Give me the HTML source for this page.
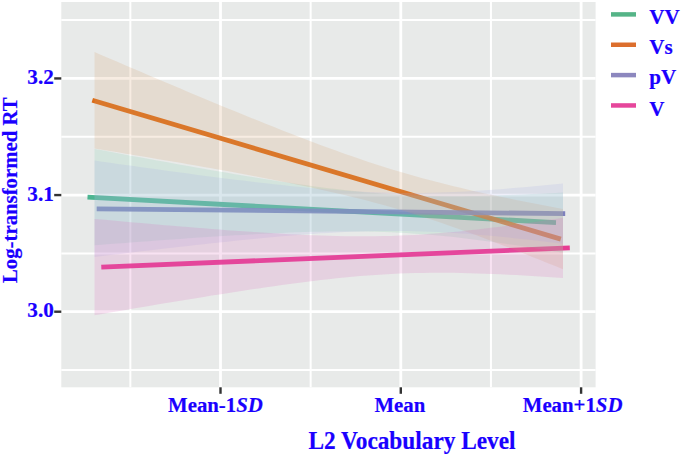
<!DOCTYPE html>
<html><head><meta charset="utf-8"><style>html,body{margin:0;padding:0;background:#fff;width:685px;height:457px;overflow:hidden}svg{display:block}</style></head>
<body><svg width="685" height="457" viewBox="0 0 685 457">
<rect x="61.3" y="2" width="534.3000000000001" height="385.3" fill="#e8eae9"/>
<line x1="61.3" x2="595.6" y1="20.12" y2="20.12" stroke="#fff" stroke-width="2.0"/>
<line x1="61.3" x2="595.6" y1="136.76" y2="136.76" stroke="#fff" stroke-width="2.0"/>
<line x1="61.3" x2="595.6" y1="253.39" y2="253.39" stroke="#fff" stroke-width="2.0"/>
<line x1="61.3" x2="595.6" y1="370.01" y2="370.01" stroke="#fff" stroke-width="2.0"/>
<line y1="2" y2="387.3" x1="130.35" x2="130.35" stroke="#fff" stroke-width="2.0"/>
<line y1="2" y2="387.3" x1="310.65" x2="310.65" stroke="#fff" stroke-width="2.0"/>
<line y1="2" y2="387.3" x1="490.95" x2="490.95" stroke="#fff" stroke-width="2.0"/>
<line x1="61.3" x2="595.6" y1="78.44" y2="78.44" stroke="#fff" stroke-width="2.8"/>
<line x1="61.3" x2="595.6" y1="195.07" y2="195.07" stroke="#fff" stroke-width="2.8"/>
<line x1="61.3" x2="595.6" y1="311.70" y2="311.70" stroke="#fff" stroke-width="2.8"/>
<line y1="2" y2="387.3" x1="220.50" x2="220.50" stroke="#fff" stroke-width="2.8"/>
<line y1="2" y2="387.3" x1="400.80" x2="400.80" stroke="#fff" stroke-width="2.8"/>
<line y1="2" y2="387.3" x1="581.10" x2="581.10" stroke="#fff" stroke-width="2.8"/>
<line x1="87.50" y1="197.1" x2="556.00" y2="222.6" stroke="#3aae86" stroke-opacity="0.9" stroke-width="4.8"/>
<line x1="92.30" y1="100.3" x2="560.80" y2="239.1" stroke="#d95f02" stroke-opacity="0.9" stroke-width="4.8"/>
<line x1="96.70" y1="208.8" x2="565.20" y2="213.6" stroke="#7276b8" stroke-opacity="0.9" stroke-width="4.8"/>
<line x1="101.30" y1="267.1" x2="569.80" y2="247.9" stroke="#e7298a" stroke-opacity="0.9" stroke-width="4.8"/>
<polygon points="94.50,148.89 102.31,150.35 110.12,151.80 117.92,153.26 125.73,154.70 133.54,156.14 141.35,157.58 149.16,159.01 156.97,160.43 164.78,161.84 172.58,163.25 180.39,164.65 188.20,166.04 196.01,167.42 203.82,168.79 211.62,170.15 219.43,171.50 227.24,172.83 235.05,174.15 242.86,175.45 250.67,176.73 258.48,178.00 266.28,179.24 274.09,180.46 281.90,181.66 289.71,182.83 297.52,183.97 305.32,185.07 313.13,186.14 320.94,187.18 328.75,188.17 336.56,189.11 344.37,190.01 352.18,190.86 359.98,191.65 367.79,192.38 375.60,193.05 383.41,193.66 391.22,194.20 399.02,194.67 406.83,195.08 414.64,195.42 422.45,195.70 430.26,195.91 438.07,196.06 445.88,196.15 453.68,196.18 461.49,196.16 469.30,196.09 477.11,195.97 484.92,195.81 492.73,195.61 500.53,195.37 508.34,195.09 516.15,194.79 523.96,194.46 531.77,194.10 539.58,193.71 547.38,193.31 555.19,192.89 563.00,192.44 563.00,252.76 555.19,251.46 547.38,250.19 539.58,248.94 531.77,247.70 523.96,246.49 516.15,245.31 508.34,244.16 500.53,243.03 492.73,241.94 484.92,240.89 477.11,239.88 469.30,238.91 461.49,237.99 453.68,237.12 445.88,236.30 438.07,235.54 430.26,234.84 422.45,234.20 414.64,233.63 406.83,233.12 399.02,232.68 391.22,232.30 383.41,231.99 375.60,231.75 367.79,231.57 359.98,231.45 352.18,231.39 344.37,231.39 336.56,231.44 328.75,231.53 320.94,231.67 313.13,231.86 305.32,232.08 297.52,232.33 289.71,232.62 281.90,232.94 274.09,233.29 266.28,233.66 258.48,234.05 250.67,234.47 242.86,234.90 235.05,235.35 227.24,235.82 219.43,236.30 211.62,236.80 203.82,237.31 196.01,237.83 188.20,238.36 180.39,238.90 172.58,239.45 164.78,240.01 156.97,240.57 149.16,241.14 141.35,241.72 133.54,242.31 125.73,242.90 117.92,243.49 110.12,244.10 102.31,244.70 94.50,245.31" fill="#84ccae" fill-opacity="0.2"/>
<polygon points="94.50,52.09 102.31,55.44 110.12,58.78 117.92,62.12 125.73,65.46 133.54,68.78 141.35,72.11 149.16,75.43 156.97,78.74 164.78,82.04 172.58,85.34 180.39,88.62 188.20,91.90 196.01,95.17 203.82,98.43 211.62,101.68 219.43,104.91 227.24,108.13 235.05,111.34 242.86,114.53 250.67,117.70 258.48,120.85 266.28,123.98 274.09,127.09 281.90,130.18 289.71,133.24 297.52,136.26 305.32,139.26 313.13,142.22 320.94,145.14 328.75,148.02 336.56,150.85 344.37,153.64 352.18,156.37 359.98,159.05 367.79,161.67 375.60,164.23 383.41,166.72 391.22,169.15 399.02,171.52 406.83,173.81 414.64,176.04 422.45,178.21 430.26,180.31 438.07,182.35 445.88,184.32 453.68,186.24 461.49,188.11 469.30,189.93 477.11,191.70 484.92,193.42 492.73,195.11 500.53,196.76 508.34,198.37 516.15,199.96 523.96,201.51 531.77,203.04 539.58,204.55 547.38,206.03 555.19,207.50 563.00,208.94 563.00,269.26 555.19,266.08 547.38,262.91 539.58,259.77 531.77,256.65 523.96,253.55 516.15,250.48 508.34,247.44 500.53,244.43 492.73,241.45 484.92,238.51 477.11,235.61 469.30,232.75 461.49,229.94 453.68,227.18 445.88,224.48 438.07,221.83 430.26,219.24 422.45,216.71 414.64,214.25 406.83,211.85 399.02,209.52 391.22,207.26 383.41,205.06 375.60,202.93 367.79,200.86 359.98,198.86 352.18,196.91 344.37,195.02 336.56,193.17 328.75,191.38 320.94,189.63 313.13,187.93 305.32,186.26 297.52,184.63 289.71,183.03 281.90,181.46 274.09,179.92 266.28,178.40 258.48,176.91 250.67,175.43 242.86,173.98 235.05,172.54 227.24,171.12 219.43,169.72 211.62,168.32 203.82,166.94 196.01,165.58 188.20,164.22 180.39,162.87 172.58,161.53 164.78,160.20 156.97,158.88 149.16,157.56 141.35,156.25 133.54,154.95 125.73,153.65 117.92,152.36 110.12,151.07 102.31,149.79 94.50,148.51" fill="#d8a070" fill-opacity="0.2"/>
<polygon points="94.50,160.59 102.31,161.70 110.12,162.81 117.92,163.92 125.73,165.02 133.54,166.12 141.35,167.21 149.16,168.29 156.97,169.37 164.78,170.44 172.58,171.50 180.39,172.56 188.20,173.60 196.01,174.64 203.82,175.66 211.62,176.68 219.43,177.68 227.24,178.66 235.05,179.64 242.86,180.59 250.67,181.53 258.48,182.45 266.28,183.35 274.09,184.23 281.90,185.08 289.71,185.90 297.52,186.70 305.32,187.46 313.13,188.18 320.94,188.87 328.75,189.52 336.56,190.12 344.37,190.67 352.18,191.17 359.98,191.62 367.79,192.00 375.60,192.33 383.41,192.59 391.22,192.79 399.02,192.92 406.83,192.98 414.64,192.98 422.45,192.91 430.26,192.77 438.07,192.58 445.88,192.32 453.68,192.01 461.49,191.64 469.30,191.23 477.11,190.76 484.92,190.26 492.73,189.71 500.53,189.13 508.34,188.51 516.15,187.86 523.96,187.18 531.77,186.48 539.58,185.75 547.38,185.00 555.19,184.23 563.00,183.44 563.00,243.76 555.19,242.81 547.38,241.88 539.58,240.97 531.77,240.08 523.96,239.22 516.15,238.38 508.34,237.57 500.53,236.79 492.73,236.05 484.92,235.34 477.11,234.68 469.30,234.05 461.49,233.48 453.68,232.95 445.88,232.48 438.07,232.06 430.26,231.71 422.45,231.41 414.64,231.18 406.83,231.02 399.02,230.92 391.22,230.89 383.41,230.93 375.60,231.03 367.79,231.20 359.98,231.42 352.18,231.71 344.37,232.05 336.56,232.44 328.75,232.88 320.94,233.37 313.13,233.90 305.32,234.46 297.52,235.06 289.71,235.70 281.90,236.36 274.09,237.05 266.28,237.77 258.48,238.51 250.67,239.27 242.86,240.05 235.05,240.84 227.24,241.66 219.43,242.48 211.62,243.32 203.82,244.18 196.01,245.04 188.20,245.92 180.39,246.80 172.58,247.70 164.78,248.60 156.97,249.51 149.16,250.43 141.35,251.35 133.54,252.28 125.73,253.22 117.92,254.16 110.12,255.11 102.31,256.06 94.50,257.01" fill="#a8b0e4" fill-opacity="0.2"/>
<polygon points="94.50,218.89 102.31,219.60 110.12,220.31 117.92,221.02 125.73,221.72 133.54,222.42 141.35,223.11 149.16,223.79 156.97,224.47 164.78,225.14 172.58,225.80 180.39,226.46 188.20,227.10 196.01,227.74 203.82,228.36 211.62,228.98 219.43,229.58 227.24,230.16 235.05,230.74 242.86,231.29 250.67,231.83 258.48,232.35 266.28,232.85 274.09,233.33 281.90,233.78 289.71,234.20 297.52,234.60 305.32,234.96 313.13,235.28 320.94,235.57 328.75,235.82 336.56,236.02 344.37,236.17 352.18,236.27 359.98,236.32 367.79,236.30 375.60,236.23 383.41,236.09 391.22,235.89 399.02,235.62 406.83,235.28 414.64,234.88 422.45,234.41 430.26,233.87 438.07,233.28 445.88,232.62 453.68,231.91 461.49,231.14 469.30,230.33 477.11,229.46 484.92,228.56 492.73,227.61 500.53,226.63 508.34,225.61 516.15,224.56 523.96,223.48 531.77,222.38 539.58,221.25 547.38,220.10 555.19,218.93 563.00,217.74 563.00,278.06 555.19,277.51 547.38,276.98 539.58,276.47 531.77,275.98 523.96,275.52 516.15,275.08 508.34,274.67 500.53,274.29 492.73,273.95 484.92,273.64 477.11,273.38 469.30,273.15 461.49,272.98 453.68,272.85 445.88,272.78 438.07,272.76 430.26,272.81 422.45,272.91 414.64,273.08 406.83,273.32 399.02,273.62 391.22,273.99 383.41,274.43 375.60,274.93 367.79,275.50 359.98,276.12 352.18,276.81 344.37,277.55 336.56,278.34 328.75,279.18 320.94,280.07 313.13,281.00 305.32,281.96 297.52,282.96 289.71,284.00 281.90,285.06 274.09,286.15 266.28,287.27 258.48,288.41 250.67,289.57 242.86,290.75 235.05,291.94 227.24,293.16 219.43,294.38 211.62,295.62 203.82,296.88 196.01,298.14 188.20,299.42 180.39,300.70 172.58,302.00 164.78,303.30 156.97,304.61 149.16,305.93 141.35,307.25 133.54,308.58 125.73,309.92 117.92,311.26 110.12,312.61 102.31,313.96 94.50,315.31" fill="#dc70c0" fill-opacity="0.2"/>
<line x1="54.2" x2="61.3" y1="78.44" y2="78.44" stroke="#333" stroke-width="2.4"/>
<line x1="54.2" x2="61.3" y1="195.07" y2="195.07" stroke="#333" stroke-width="2.4"/>
<line x1="54.2" x2="61.3" y1="311.70" y2="311.70" stroke="#333" stroke-width="2.4"/>
<line y1="387.3" y2="393.8" x1="220.50" x2="220.50" stroke="#333" stroke-width="2.4"/>
<line y1="387.3" y2="393.8" x1="400.80" x2="400.80" stroke="#333" stroke-width="2.4"/>
<line y1="387.3" y2="393.8" x1="581.10" x2="581.10" stroke="#333" stroke-width="2.4"/>
<text x="53.8" y="84.04" text-anchor="end" font-size="21.2" font-family="Liberation Serif" font-weight="bold" fill="#1a00ff" stroke="#1a00ff" stroke-width="0.2">3.2</text>
<text x="53.8" y="200.67" text-anchor="end" font-size="21.2" font-family="Liberation Serif" font-weight="bold" fill="#1a00ff" stroke="#1a00ff" stroke-width="0.2">3.1</text>
<text x="53.8" y="317.30" text-anchor="end" font-size="21.2" font-family="Liberation Serif" font-weight="bold" fill="#1a00ff" stroke="#1a00ff" stroke-width="0.2">3.0</text>
<text x="215.40" y="412.2" text-anchor="middle" font-size="20.8" font-family="Liberation Serif" font-weight="bold" fill="#1a00ff" stroke="#1a00ff" stroke-width="0.2">Mean-1<tspan font-style="italic">SD</tspan></text>
<text x="399.80" y="412.2" text-anchor="middle" font-size="20.8" font-family="Liberation Serif" font-weight="bold" fill="#1a00ff" stroke="#1a00ff" stroke-width="0.2">Mean</text>
<text x="572.60" y="412.2" text-anchor="middle" font-size="20.8" font-family="Liberation Serif" font-weight="bold" fill="#1a00ff" stroke="#1a00ff" stroke-width="0.2">Mean+1<tspan font-style="italic">SD</tspan></text>
<text transform="translate(412.0,448.7) scale(1,1.08)" x="0" y="0" text-anchor="middle" font-size="23.3" font-family="Liberation Serif" font-weight="bold" fill="#1a00ff" stroke="#1a00ff" stroke-width="0.2">L2 Vocabulary Level</text>
<text transform="translate(16.9,190.2) rotate(-90)" x="0" y="0" text-anchor="middle" font-size="20.8" font-family="Liberation Serif" font-weight="bold" fill="#1a00ff" stroke="#1a00ff" stroke-width="0.2">Log-transformed RT</text>
<line x1="611" x2="636" y1="14.40" y2="14.40" stroke="#55b487" stroke-width="4.5"/>
<text x="649.3" y="24.30" font-size="21.1" font-family="Liberation Serif" font-weight="bold" fill="#1a00ff" stroke="#1a00ff" stroke-width="0.2">VV</text>
<line x1="611" x2="636" y1="44.75" y2="44.75" stroke="#dc6e2d" stroke-width="4.5"/>
<text x="649.3" y="54.40" font-size="21.1" font-family="Liberation Serif" font-weight="bold" fill="#1a00ff" stroke="#1a00ff" stroke-width="0.2">Vs</text>
<line x1="611" x2="636" y1="75.10" y2="75.10" stroke="#8c87be" stroke-width="4.5"/>
<text x="649.3" y="84.20" font-size="21.1" font-family="Liberation Serif" font-weight="bold" fill="#1a00ff" stroke="#1a00ff" stroke-width="0.2">pV</text>
<line x1="611" x2="636" y1="105.45" y2="105.45" stroke="#e6469b" stroke-width="4.5"/>
<text x="649.3" y="116.35" font-size="21.1" font-family="Liberation Serif" font-weight="bold" fill="#1a00ff" stroke="#1a00ff" stroke-width="0.2">V</text>
</svg></body></html>
